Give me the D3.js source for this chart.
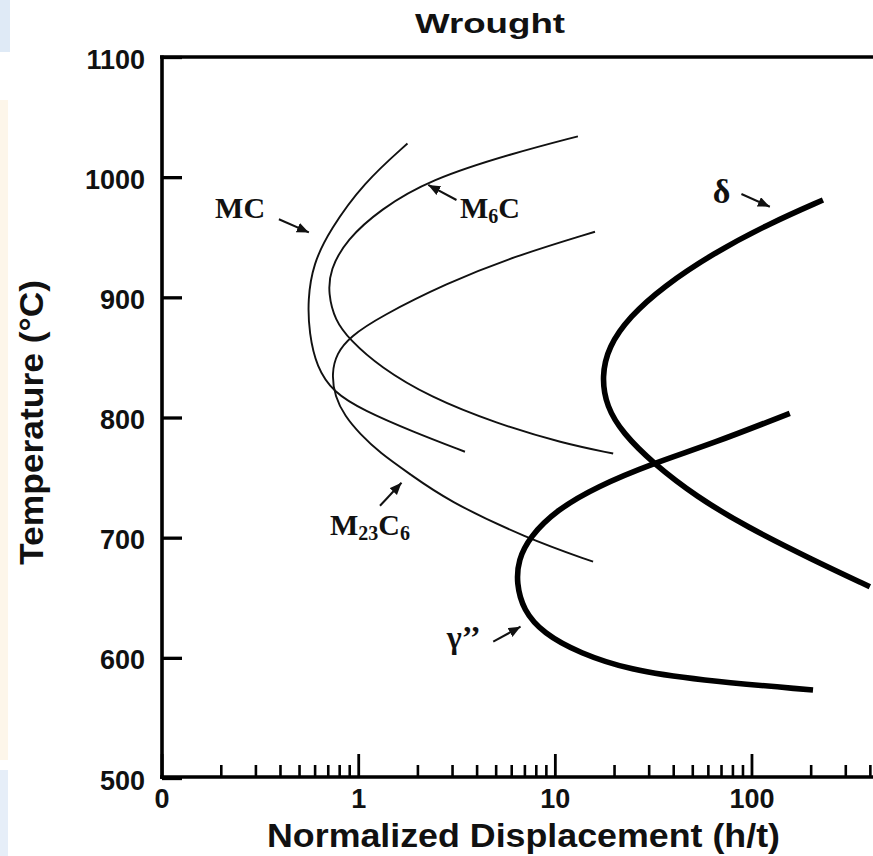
<!DOCTYPE html>
<html><head><meta charset="utf-8">
<script src="https://cdn.jsdelivr.net/npm/d3@7"></script>
<style>body{margin:0;background:#fff} svg{display:block}</style>
</head><body>
<svg id="c" width="873" height="856"></svg>
<script>
// ---------- data ----------
const chartTitle = "Wrought";
const xTitle = "Normalized Displacement (h/t)";
const yTitle = "Temperature (\u00B0C)";
const xMajorTicks = [0.1, 1, 10, 100];
const xMajorLabels = ["0", "1", "10", "100"];
const xMinorTicks = [0.2,0.3,0.4,0.5,0.6,0.7,0.8,0.9, 2,3,4,5,6,7,8,9, 20,30,40,50,60,70,80,90, 200,300,400];
const yTicks = [500, 600, 700, 800, 900, 1000, 1100];

// curves: [normalized displacement, temperature]
const mcCurve = [[1.78,1028],[1.06,995],[0.718,956],[0.590,928],[0.553,898],[0.563,870],[0.614,842],[0.746,821],[1.06,806],[1.905,788],[3.49,771.5]];
const m6cCurve = [[13.1,1034],[6.14,1020],[2.31,998],[1.29,973],[0.873,948],[0.718,923],[0.704,903],[0.761,881],[0.907,864.5],[1.29,842],[2.31,817],[5.05,795],[11.0,778.5],[19.8,770]];
const m23c6Curve = [[16.0,954.6],[6.14,933.8],[2.81,911.7],[1.29,883.9],[0.907,867.2],[0.777,853.4],[0.732,836.8],[0.761,817.3],[0.855,801.2],[1.02,786.3],[1.29,770.5],[1.83,753],[2.81,731.3],[7.18,699.5],[15.65,680]];
const deltaCurve = [[231,981],[124,961.6],[63.8,936.6],[35.5,908.8],[24.0,883.9],[18.7,858.9],[17.3,834],[18.3,809],[22.2,786.8],[31.6,761.9],[52.5,734.1],[94.3,709.1],[205.6,681.4],[400,659.2]];
const gammaCurve = [[156.6,803.5],[63.8,778.5],[31.6,761.9],[16.3,742.4],[10.2,723],[7.46,700.8],[6.51,681.4],[6.38,662],[6.90,639.8],[8.72,620.4],[13.4,603.8],[24.0,589.9],[52.5,581.6],[205.6,573.2]];

const thinCurves = [mcCurve, m6cCurve, m23c6Curve];
const thickCurves = [deltaCurve, gammaCurve];

// annotations (data coordinates)
const labelNames = [
  [["M",""],["C",""]],
  [["M",""],["","6"],["C",""]],
  [["M",""],["","23"],["C",""],["","6"]],
  [["\u03B3\u2019\u2019",""]],
  [["\u03B4",""]]
];
const labelAnchors = [[0.187,966.4],[3.29,966],[0.718,702],[2.82,608],[63.6,978.5]];
const arrowTails = [[0.395,965],[3.16,981],[1.29,726.6],[4.86,613.4],[88.9,986]];
const arrowHeads = [[0.561,954],[2.27,993.5],[1.66,745.7],[6.69,625.9],[124,975.4]];

// ---------- drawing ----------
const svg = d3.select("#c");
const x = d3.scaleLog().domain([0.1, 415]).range([161.6, 873]);
const y = d3.scaleLinear().domain([500, 1100]).range([778, 57]);

// faint edge artifacts of the original
svg.append("rect").attr("x",0).attr("y",0).attr("width",10).attr("height",52).attr("fill","#dfeaf6");
svg.append("rect").attr("x",0).attr("y",100).attr("width",8).attr("height",660).attr("fill","#fdf6ea");
svg.append("rect").attr("x",0).attr("y",770).attr("width",8).attr("height",86).attr("fill","#e6eef8");

const line = d3.line().x(d => x(d[0])).y(d => y(d[1])).curve(d3.curveBasis);

svg.append("g").selectAll("path").data(thinCurves).join("path")
  .attr("d", line).attr("fill","none").attr("stroke","#111").attr("stroke-width",1.9);
svg.append("g").selectAll("path").data(thickCurves).join("path")
  .attr("d", line).attr("fill","none").attr("stroke","#000").attr("stroke-width",5.6).attr("stroke-linecap","butt");

// axes
const tickFont = "'Liberation Sans', Arial, sans-serif";
const yAxis = d3.axisLeft(y).tickValues(yTicks).tickSize(-20).tickSizeOuter(0).tickPadding(17).tickFormat(d3.format("d"));
const gy = svg.append("g").attr("transform","translate(162,0)").call(yAxis);
gy.select(".domain").remove();
gy.selectAll(".tick line").attr("stroke","#000").attr("stroke-width",3.3);
gy.selectAll(".tick text").attr("font-family",tickFont).attr("font-weight","bold").attr("font-size",27).attr("fill","#111").attr("dy","0.41em");

const xMinorAxis = d3.axisBottom(x).tickValues(xMinorTicks).tickSize(-12).tickSizeOuter(0).tickFormat("");
const gxm = svg.append("g").attr("transform","translate(0,777)").call(xMinorAxis);
gxm.select(".domain").remove();
gxm.selectAll(".tick line").attr("stroke","#000").attr("stroke-width",2.6);

const xMajorAxis = d3.axisBottom(x).tickValues(xMajorTicks).tickSize(-23).tickSizeOuter(0)
  .tickFormat((d,i) => xMajorLabels[i]);
const gx = svg.append("g").attr("transform","translate(0,777)").call(xMajorAxis);
gx.select(".domain").remove();
gx.selectAll(".tick line").attr("stroke","#000").attr("stroke-width",2.8);
gx.selectAll(".tick text").attr("font-family",tickFont).attr("font-weight","bold").attr("font-size",27).attr("fill","#111")
  .attr("y",31).attr("dy",null);

// frame lines
svg.append("line").attr("x1",162).attr("x2",162).attr("y1",55.5).attr("y2",779).attr("stroke","#000").attr("stroke-width",3.6);
svg.append("line").attr("x1",160).attr("x2",873).attr("y1",57).attr("y2",57).attr("stroke","#000").attr("stroke-width",3.4);
svg.append("line").attr("x1",160).attr("x2",873).attr("y1",777).attr("y2",777).attr("stroke","#000").attr("stroke-width",3.6);

// titles
svg.append("text").attr("x",490).attr("y",33).attr("text-anchor","middle")
  .attr("font-family",tickFont).attr("font-weight","bold").attr("font-size",28).attr("fill","#111")
  .attr("textLength",150).attr("lengthAdjust","spacingAndGlyphs").text(chartTitle);
svg.append("text").attr("x",523.5).attr("y",847).attr("text-anchor","middle")
  .attr("font-family",tickFont).attr("font-weight","bold").attr("font-size",33).attr("fill","#111")
  .attr("textLength",513).attr("lengthAdjust","spacingAndGlyphs").text(xTitle);
svg.append("text").attr("transform","translate(43,422.5) rotate(-90)").attr("text-anchor","middle")
  .attr("font-family",tickFont).attr("font-weight","bold").attr("font-size",34).attr("fill","#111")
  .attr("textLength",285).attr("lengthAdjust","spacingAndGlyphs").text(yTitle);

// arrows
svg.append("defs").append("marker").attr("id","ah").attr("markerUnits","userSpaceOnUse")
  .attr("markerWidth",14).attr("markerHeight",12).attr("refX",12).attr("refY",5).attr("orient","auto")
  .append("path").attr("d","M0,0 L12,5 L0,10 Z").attr("fill","#111");
svg.append("g").selectAll("line").data(arrowTails).join("line")
  .attr("x1",d => x(d[0])).attr("y1",d => y(d[1]))
  .attr("x2",(d,i) => x(arrowHeads[i][0])).attr("y2",(d,i) => y(arrowHeads[i][1]))
  .attr("stroke","#111").attr("stroke-width",2).attr("marker-end","url(#ah)");

// labels
const lab = svg.append("g").attr("font-family","'Liberation Serif','Times New Roman',serif").attr("font-weight","bold").attr("fill","#111");
labelNames.forEach((parts,i) => {
  const t = lab.append("text").attr("x",x(labelAnchors[i][0])).attr("y",y(labelAnchors[i][1])).attr("font-size",i===4?34:(i===3?32:30));
  let sub = false;
  parts.forEach(p => {
    if (p[0]) { t.append("tspan").attr("dy", sub ? -5 : 0).text(p[0]); sub = false; }
    if (p[1]) { t.append("tspan").attr("font-size",20).attr("dy", sub ? 0 : 5).text(p[1]); sub = true; }
  });
});
</script>
</body></html>
